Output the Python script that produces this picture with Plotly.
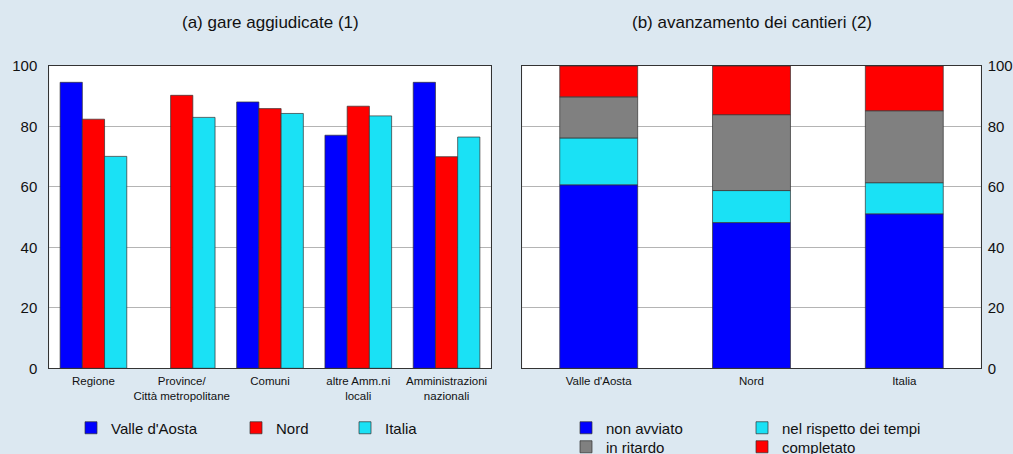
import plotly.graph_objects as go
import numpy as np

# ---- data ----
cat_a = ["Regione", "Province/<br>Città metropolitane", "Comuni", "altre Amm.ni<br>locali", "Amministrazioni<br>nazionali"]
valle_a = [94.6, None, 88.1, 77.1, 94.6]
nord_a = [82.4, 90.3, 85.9, 86.7, 70.0]
italia_a = [70.1, 83.0, 84.3, 83.5, 76.5]

cat_b = ["Valle d'Aosta", "Nord", "Italia"]
non_avviato = [60.7, 48.2, 51.1]
nel_rispetto = [15.5, 10.6, 10.3]
in_ritardo = [13.6, 25.1, 23.8]
completato = [10.2, 16.1, 14.8]

title_a = "(a) gare aggiudicate (1)"
title_b = "(b) avanzamento dei cantieri (2)"

BLUE = "#0000ff"
RED = "#ff0000"
CYAN = "#1ae1f5"
GRAY = "#808080"
BG = "#dce8f1"
FONT = "Liberation Sans, Arial, sans-serif"
EDGE = dict(color="rgba(50,50,50,0.7)", width=1)

fig = go.Figure()

for name, vals, col, lg in [("Valle d'Aosta", valle_a, BLUE, "legend"),
                            ("Nord", nord_a, RED, "legend2"),
                            ("Italia", italia_a, CYAN, "legend3")]:
    fig.add_trace(go.Bar(x=cat_a, y=vals, name=name, marker=dict(color=col, line=EDGE),
                         xaxis="x", yaxis="y", legend=lg, showlegend=True))

stack = [("non avviato", non_avviato, BLUE, "legend4"),
         ("nel rispetto dei tempi", nel_rispetto, CYAN, "legend5"),
         ("in ritardo", in_ritardo, GRAY, "legend6"),
         ("completato", completato, RED, "legend7")]
base = np.zeros(len(cat_b))
for name, vals, col, lg in stack:
    fig.add_trace(go.Bar(x=cat_b, y=vals, base=base.copy(), name=name,
                         marker=dict(color=col, line=EDGE), width=0.51,
                         offsetgroup="s", xaxis="x2", yaxis="y2", legend=lg,
                         showlegend=True))
    base = base + np.array(vals)

W, H = 1013, 454
def px(x):
    return x / W
def py(y):
    return 1 - y / H

axis_common = dict(showline=True, mirror=True, linecolor="#333", linewidth=1,
                   zeroline=False, fixedrange=True)

leg_common = dict(orientation="h", bgcolor="rgba(0,0,0,0)", borderwidth=0,
                  xanchor="left", yanchor="middle", visible=True,
                  font=dict(family=FONT, size=15, color="#111"))

fig.update_layout(
    width=W, height=H,
    paper_bgcolor=BG, plot_bgcolor="white",
    margin=dict(l=0, r=0, t=0, b=0, autoexpand=False),
    showlegend=True,
    barmode="group", bargap=0.245, bargroupgap=0,
    font=dict(family=FONT, color="#111"),
    xaxis=dict(domain=[px(49.3), px(490.7)], anchor="y", showgrid=False,
               tickfont=dict(size=11.5), ticks="", automargin=False,
               ticklabelstandoff=2, **axis_common),
    yaxis=dict(domain=[py(368.3), py(66)], anchor="x", range=[0, 100], dtick=20,
               showgrid=True, gridcolor="#b4b4b4", gridwidth=1, ticks="",
               tickfont=dict(size=15), automargin=False, ticklabelstandoff=8,
               **axis_common),
    xaxis2=dict(domain=[px(522.3), px(980.7)], anchor="y2", showgrid=False,
                tickfont=dict(size=11.5), ticks="", automargin=False,
                ticklabelstandoff=2, **axis_common),
    yaxis2=dict(domain=[py(368.3), py(66)], anchor="x2", range=[0, 100], dtick=20,
                side="right", showgrid=True, gridcolor="#b4b4b4", gridwidth=1,
                ticks="", tickfont=dict(size=15), automargin=False,
                ticklabelstandoff=3, **axis_common),
    legend=dict(x=px(111 - 40), y=py(428), **leg_common),
    legend2=dict(x=px(276 - 40), y=py(428), **leg_common),
    legend3=dict(x=px(385 - 40), y=py(428), **leg_common),
    legend4=dict(x=px(606 - 40), y=py(428), **leg_common),
    legend5=dict(x=px(782 - 40), y=py(428), **leg_common),
    legend6=dict(x=px(606 - 40), y=py(447), **leg_common),
    legend7=dict(x=px(782 - 40), y=py(447), **leg_common),
    annotations=[
        dict(text=title_a, x=px(270), y=py(22), xref="paper", yref="paper",
             showarrow=False, xanchor="center", yanchor="middle",
             font=dict(size=17, family=FONT, color="#111")),
        dict(text=title_b, x=px(752), y=py(22), xref="paper", yref="paper",
             showarrow=False, xanchor="center", yanchor="middle",
             font=dict(size=17, family=FONT, color="#111")),
    ],
)

fig.write_html("out.html", config={"displayModeBar": False},
               post_script="document.body.style.margin='0';")
